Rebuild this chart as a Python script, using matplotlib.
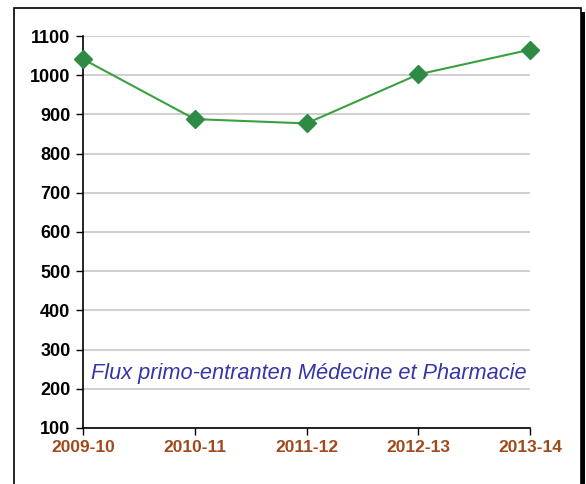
import matplotlib.pyplot as plt
from matplotlib.patches import Rectangle

years = ['2009-10', '2010-11', '2011-12', '2012-13', '2013-14']
flux = [1041, 888, 877, 1002, 1065]
yticks = list(range(100, 1101, 100))

plt.rcParams['font.family'] = ['Liberation Sans', 'DejaVu Sans']

fig = plt.figure(figsize=(5.86, 4.84), dpi=100)

# cadre + ombre, dans un axe de fond
bg = fig.add_axes([0, 0, 1, 1], zorder=0)
bg.set_xlim(0, 586)
bg.set_ylim(484, 0)
bg.axis('off')
bg.add_patch(Rectangle((580, 12), 5, 480, facecolor='black', edgecolor='none'))
bg.add_patch(Rectangle((14, 8), 567, 480, facecolor='white', edgecolor='black', linewidth=1.2))

ax = fig.add_axes([83/586, 1 - 428/484, (530-83)/586, (428-36)/484], zorder=1)

x = list(range(len(years)))
ax.plot(x, flux, color='#3aa040', linewidth=1.5, marker='D', markersize=9,
        markerfacecolor='#2e8b45', markeredgecolor='#2e8b45', clip_on=False, zorder=5)

ax.set_xlim(0, len(years) - 1)
ax.set_ylim(100, 1100)
ax.set_yticks(yticks)
ax.set_xticks(x)
ax.set_xticklabels(years, color='#a04a1c', fontweight='bold', fontsize=12.5)
for lab in ax.get_yticklabels():
    lab.set_fontweight('bold')
    lab.set_fontsize(13)
ax.tick_params(axis='both', direction='out', length=5, width=1, colors='black')
ax.tick_params(axis='x', labelcolor='#a04a1c', pad=4)
ax.tick_params(axis='y', pad=4)
ax.grid(axis='y', color='#cccccc', linewidth=1.3)
ax.set_axisbelow(True)
for s in ['top', 'right']:
    ax.spines[s].set_visible(False)
ax.spines['left'].set_linewidth(1.2)
ax.spines['bottom'].set_linewidth(1.2)
ax.patch.set_alpha(0)

ax.text(0.506, 0.14, 'Flux primo-entranten Médecine et Pharmacie', transform=ax.transAxes,
        ha='center', va='center', style='italic', fontsize=15.7, color='#3535a8')

fig.savefig('out.png', dpi=100)
